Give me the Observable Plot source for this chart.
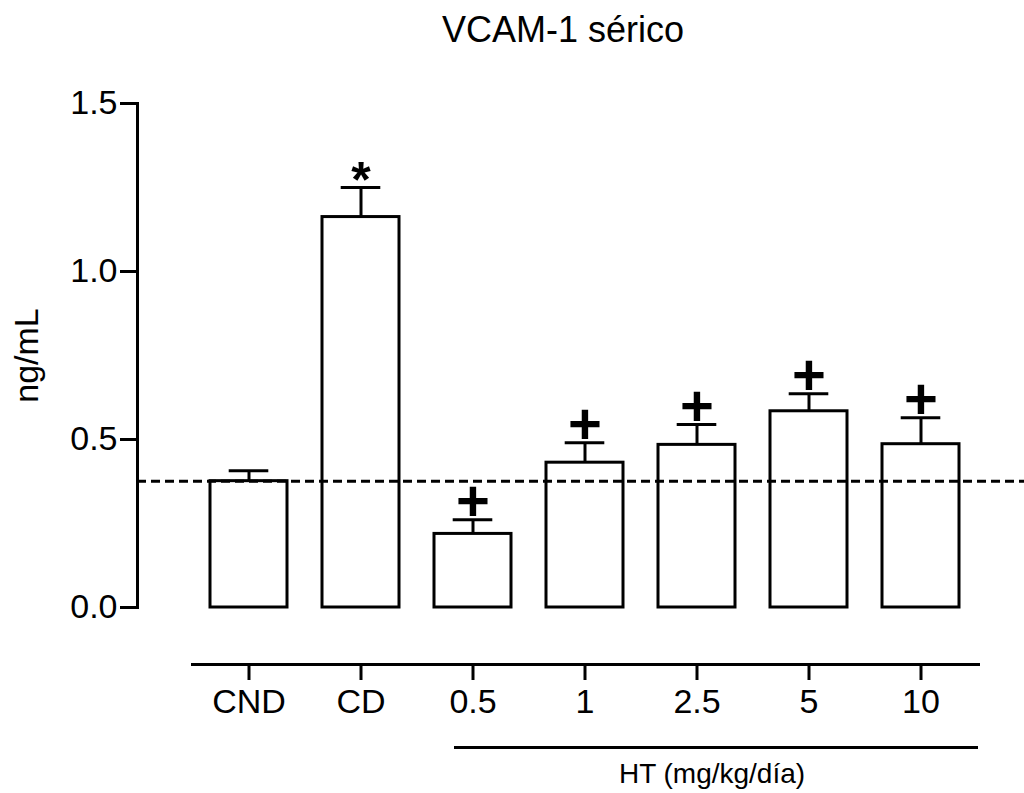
<!DOCTYPE html>
<html>
<head>
<meta charset="utf-8">
<script src="https://cdn.jsdelivr.net/npm/d3@7"></script>
<script src="https://cdn.jsdelivr.net/npm/@observablehq/plot@0.6"></script>
<style>
  body { margin: 0; background: #fff; font-family: "Liberation Sans", Arial, sans-serif; }
  #wrap { position: relative; width: 1024px; height: 793px; overflow: hidden; }
  #title { position: absolute; left: 0; top: 12px; width: 1126px; text-align: center;
           font-size: 36px; line-height: 36px; color: #000; }
  #chart { position: absolute; left: 0; top: 70px; }
</style>
</head>
<body>
<div id="wrap">
  <div id="title">VCAM-1 sérico</div>
  <div id="chart"></div>
</div>
<script>
// Serum VCAM-1 (ng/mL): mean and SEM per group
const groups = ["CND", "CD", "0.5", "1", "2.5", "5", "10"];
const means  = [0.376, 1.162, 0.219, 0.431, 0.484, 0.584, 0.486];
const sems   = [0.031, 0.088, 0.042, 0.059, 0.061, 0.052, 0.079];
const signif = ["", "*", "+", "+", "+", "+", "+"];
const yTicks = [0, 0.5, 1.0, 1.5];
const referenceLevel = 0.376;          // CND mean, drawn as dashed line
const doseGroups = ["0.5", "10"];      // first and last HT dose
const doseLabel = "HT (mg/kg/día)";
const yLabel = "ng/mL";

const rows = groups.map((g, i) => ({
  group: g, mean: means[i], sem: sems[i], top: means[i] + sems[i], sig: signif[i]
}));

const yDomain = [0, 1.5];
const midDose = groups[Math.floor((groups.indexOf(doseGroups[0]) + groups.indexOf(doseGroups[1])) / 2)];

const chart = Plot.plot({
  width: 1024,
  height: 723,
  marginTop: 33,
  marginBottom: 129,
  marginLeft: 137,
  marginRight: 46,
  insetLeft: 55,
  insetBottom: 57,
  style: { fontFamily: '"Liberation Sans", Arial, sans-serif', background: "white", color: "black", overflow: "visible" },
  x: { domain: groups, paddingInner: 0.31, paddingOuter: 0.155, label: null },
  y: { domain: yDomain, label: null },
  marks: [
    // axis lines
    Plot.frame({ anchor: "left", insetBottom: 57, strokeWidth: 3 }),
    Plot.frame({ anchor: "bottom", insetLeft: 55, strokeWidth: 3 }),
    Plot.axisY({ ticks: yTicks, tickFormat: d3.format(".1f"), tickSize: 17, tickPadding: 3,
                 fontSize: 34, strokeWidth: 3, label: null }),
    Plot.axisX({ tickSize: 16, tickPadding: 8, fontSize: 34, strokeWidth: 3, label: null }),
    // bars
    Plot.barY(rows, { x: "group", y: "mean", fill: "white", stroke: "black", strokeWidth: 3 }),
    // reference level
    Plot.ruleY([referenceLevel], { stroke: "black", strokeWidth: 3, strokeDasharray: "9,5", insetRight: -46 }),
    // upper error bars
    Plot.ruleX(rows, { x: "group", y1: "mean", y2: "top", strokeWidth: 3 }),
    Plot.tickY(rows, { x: "group", y: "top", strokeWidth: 3, insetLeft: 18.7, insetRight: 18.7 }),
    // significance marks
    Plot.text(rows.filter(d => d.sig === "+"), { x: "group", y: "top", text: "sig",
      fontSize: 58, fontWeight: "bold", dy: -17 }),
    Plot.text(rows.filter(d => d.sig === "*"), { x: "group", y: "top", text: "sig",
      fontSize: 50, fontWeight: "bold", dy: -7 }),
    // y-axis title
    Plot.text([yLabel], { y: () => (yDomain[0] + yDomain[1]) / 2, text: d => d, frameAnchor: "left",
      rotate: -90, lineAnchor: "top", textAnchor: "middle", fontSize: 34, dx: -124 }),
    // HT dose bracket and label
    Plot.ruleY([{ a: doseGroups[0], b: doseGroups[1] }], { x1: "a", x2: "b", y: () => 0,
      strokeWidth: 3, insetLeft: 20, insetRight: -19, dy: 140 }),
    Plot.text([doseLabel], { x: () => midDose, y: () => 0, text: d => d, fontSize: 28,
      lineAnchor: "middle", dx: 15, dy: 167 })
  ]
});

document.getElementById("chart").appendChild(chart);
</script>
</body>
</html>
